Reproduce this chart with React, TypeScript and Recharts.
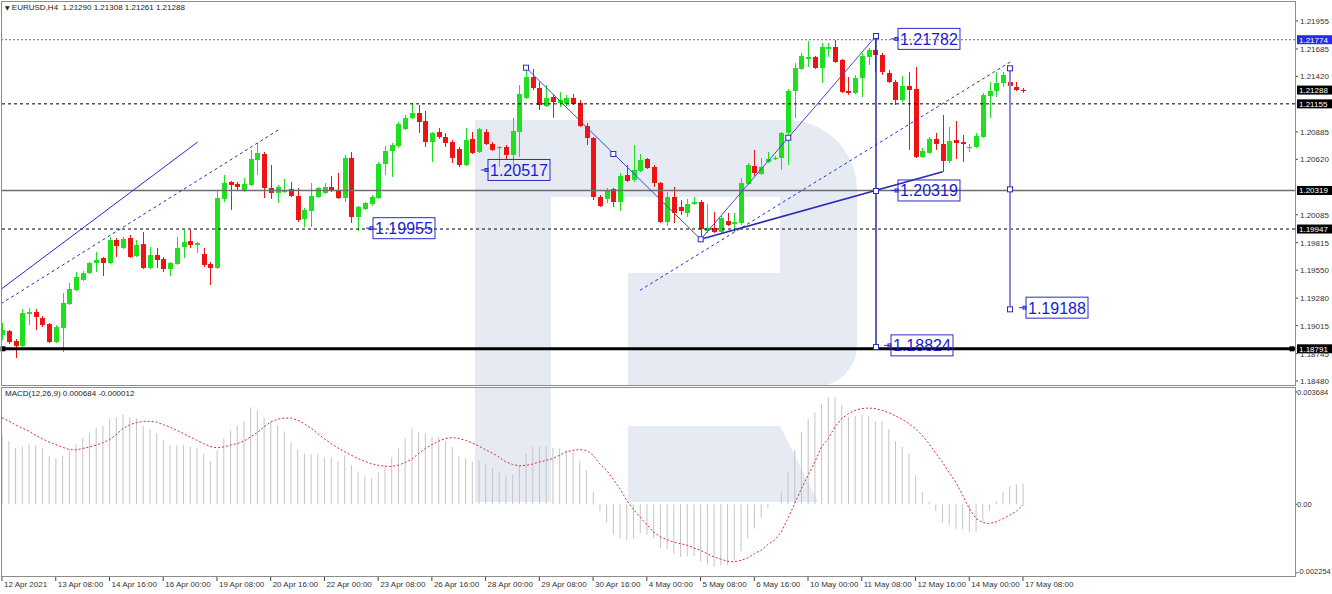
import React from "react";
import {
  ComposedChart,
  Bar,
  Line,
  XAxis,
  YAxis,
  ReferenceLine,
  ReferenceArea,
  ReferenceDot,
} from "recharts";

// EURUSD H4, one value per candle: 12 Apr 2021 00:00 .. 17 May 2021 08:00
const opens = [
  1.18924, 1.18963, 1.18866, 1.18818, 1.19127, 1.19146, 1.19088, 1.1903, 1.18856, 1.18991,
  1.19223, 1.19358, 1.19455, 1.19522, 1.19619, 1.19667, 1.19619, 1.19841, 1.19764, 1.1986,
  1.19687, 1.19802, 1.19571, 1.19696, 1.19658, 1.19561, 1.19609, 1.19773, 1.19831, 1.19793,
  1.19706, 1.19609, 1.19571, 1.20237, 1.20401, 1.20382, 1.20324, 1.20372, 1.20613, 1.20671,
  1.20343, 1.20295, 1.20304, 1.20333, 1.20266, 1.20044, 1.20121, 1.20256, 1.20295, 1.20353,
  1.20324, 1.20246, 1.20633, 1.20063, 1.2014, 1.20189, 1.20246, 1.20575, 1.207, 1.20748,
  1.20912, 1.21019, 1.21067, 1.2099, 1.20787, 1.20883, 1.20835, 1.20787, 1.20719, 1.20565,
  1.20816, 1.2069, 1.20883, 1.20768, 1.20729, 1.20739, 1.20662, 1.20883, 1.21212, 1.21414,
  1.21308, 1.21134, 1.21221, 1.21163, 1.21154, 1.21212, 1.21163, 1.20941, 1.20826, 1.20256,
  1.20237, 1.20333, 1.20208, 1.20468, 1.2042, 1.20507, 1.20623, 1.20546, 1.20391, 1.20015,
  1.20256, 1.2016, 1.20102, 1.20189, 1.20208, 1.19928, 1.19957, 1.19918, 1.20024, 1.19995,
  1.20005, 1.20382, 1.20555, 1.20478, 1.20594, 1.20623, 1.20633, 1.20874, 1.21279, 1.21492,
  1.21588, 1.21608, 1.21501, 1.21685, 1.21704, 1.21579, 1.21279, 1.2126, 1.21405, 1.21608,
  1.21675, 1.21627, 1.21453, 1.21366, 1.21192, 1.21328, 1.21299, 1.20642, 1.20681, 1.20816,
  1.20768, 1.20604, 1.20806, 1.20787, 1.20729, 1.20739, 1.20835, 1.21231, 1.21279, 1.21356,
  1.21366, 1.21318, 1.2129,
];
const highs = [
  1.1904, 1.18972, 1.18885, 1.19175, 1.19185, 1.19175, 1.19107, 1.1904, 1.1902, 1.19329,
  1.19426, 1.19532, 1.19542, 1.19629, 1.19725, 1.19677, 1.1987, 1.1986, 1.1987, 1.19889,
  1.19841, 1.19918, 1.19773, 1.19764, 1.19677, 1.19629, 1.1987, 1.19938, 1.19938, 1.19822,
  1.19764, 1.19629, 1.20324, 1.20468, 1.20411, 1.20401, 1.20439, 1.2071, 1.20777, 1.2069,
  1.20565, 1.20372, 1.2043, 1.20401, 1.20343, 1.2015, 1.20391, 1.20353, 1.20391, 1.20459,
  1.20488, 1.20662, 1.2069, 1.20169, 1.20208, 1.20275, 1.20594, 1.20748, 1.20777, 1.2098,
  1.21048, 1.21163, 1.21144, 1.21086, 1.20883, 1.20922, 1.20874, 1.20806, 1.20739, 1.20922,
  1.20883, 1.20922, 1.20912, 1.20787, 1.20748, 1.20758, 1.21019, 1.21337, 1.21521, 1.21492,
  1.21366, 1.21337, 1.21241, 1.2127, 1.21241, 1.2125, 1.21192, 1.2097, 1.20835, 1.20275,
  1.20343, 1.20343, 1.20488, 1.20565, 1.20758, 1.20671, 1.20633, 1.20565, 1.20401, 1.20304,
  1.20353, 1.20227, 1.20237, 1.20256, 1.20227, 1.20189, 1.20111, 1.20073, 1.20102, 1.20102,
  1.20439, 1.20584, 1.2071, 1.20633, 1.2069, 1.20652, 1.20883, 1.21299, 1.2155, 1.21646,
  1.21762, 1.21617, 1.21743, 1.21743, 1.21772, 1.21588, 1.21414, 1.21434, 1.21646, 1.21694,
  1.21782, 1.21646, 1.21482, 1.21386, 1.21424, 1.21463, 1.21511, 1.20729, 1.20835, 1.20874,
  1.21048, 1.20932, 1.2099, 1.20855, 1.20768, 1.20874, 1.2126, 1.21366, 1.21463, 1.21463,
  1.21501, 1.21366, 1.21308,
];
const lows = [
  1.18876, 1.18837, 1.18702, 1.18808, 1.1902, 1.18972, 1.19001, 1.18847, 1.18847, 1.1876,
  1.19214, 1.19349, 1.19445, 1.19513, 1.19532, 1.19493, 1.19609, 1.19677, 1.19754, 1.19667,
  1.19677, 1.19561, 1.19561, 1.19571, 1.19532, 1.19493, 1.196, 1.19667, 1.19764, 1.19715,
  1.1958, 1.19407, 1.19561, 1.20208, 1.20131, 1.20324, 1.20304, 1.20362, 1.20468, 1.20246,
  1.20237, 1.20198, 1.20295, 1.20256, 1.20015, 1.19967, 1.19967, 1.20246, 1.20285, 1.20304,
  1.20237, 1.20208, 1.20005, 1.19928, 1.20131, 1.20169, 1.20237, 1.20468, 1.20449, 1.20729,
  1.20903, 1.21009, 1.20874, 1.20739, 1.20594, 1.20816, 1.20739, 1.20584, 1.20546, 1.20555,
  1.20671, 1.20681, 1.20758, 1.207, 1.20546, 1.20613, 1.20565, 1.20642, 1.21202, 1.21289,
  1.21096, 1.21125, 1.21019, 1.21125, 1.21134, 1.21144, 1.20932, 1.20758, 1.20227, 1.2016,
  1.20198, 1.2016, 1.20121, 1.20401, 1.20401, 1.20497, 1.20526, 1.20353, 1.20005, 1.19976,
  1.20005, 1.20082, 1.20063, 1.20179, 1.19851, 1.19909, 1.19909, 1.19909, 1.19976, 1.19918,
  1.19986, 1.20372, 1.20459, 1.20468, 1.20584, 1.20613, 1.20517, 1.20565, 1.21019, 1.21482,
  1.21511, 1.21492, 1.21356, 1.21608, 1.2155, 1.2126, 1.21241, 1.2125, 1.21221, 1.2153,
  1.21463, 1.21434, 1.21356, 1.21144, 1.21173, 1.2071, 1.20633, 1.20633, 1.20671, 1.2071,
  1.20497, 1.20584, 1.20623, 1.20594, 1.2069, 1.20729, 1.20826, 1.21019, 1.21221, 1.21318,
  1.21308, 1.21279, 1.21261,
];
const closes = [
  1.18972, 1.18856, 1.18818, 1.19136, 1.19146, 1.19098, 1.1902, 1.18856, 1.19001, 1.19233,
  1.19368, 1.19484, 1.19522, 1.19619, 1.19648, 1.19619, 1.19841, 1.19783, 1.19851, 1.19677,
  1.19793, 1.19571, 1.19696, 1.19648, 1.19561, 1.19619, 1.19764, 1.19822, 1.19793, 1.19812,
  1.196, 1.19571, 1.20246, 1.20391, 1.20372, 1.20353, 1.20382, 1.20623, 1.20681, 1.20343,
  1.20295, 1.20353, 1.20324, 1.20266, 1.20034, 1.20131, 1.20266, 1.20343, 1.20353, 1.20314,
  1.20246, 1.20633, 1.20063, 1.2016, 1.20198, 1.20256, 1.20575, 1.207, 1.20758, 1.20961,
  1.21019, 1.21067, 1.2098, 1.20787, 1.20874, 1.20835, 1.20777, 1.20633, 1.20565, 1.20806,
  1.20681, 1.20912, 1.20768, 1.2071, 1.20739, 1.20662, 1.20893, 1.2125, 1.21414, 1.21308,
  1.21144, 1.21212, 1.21173, 1.21192, 1.21212, 1.21154, 1.20941, 1.20826, 1.20256, 1.20169,
  1.20314, 1.20208, 1.20459, 1.20411, 1.20517, 1.20613, 1.20536, 1.20391, 1.20015, 1.20256,
  1.20102, 1.20121, 1.20189, 1.20208, 1.19947, 1.19957, 1.19918, 1.20053, 1.19986, 1.20015,
  1.20391, 1.20565, 1.20488, 1.20546, 1.20623, 1.20633, 1.20874, 1.21279, 1.21501, 1.21617,
  1.21608, 1.21501, 1.21704, 1.21704, 1.21559, 1.2127, 1.2126, 1.21405, 1.21617, 1.21675,
  1.21627, 1.21463, 1.21366, 1.21192, 1.21328, 1.21289, 1.20642, 1.207, 1.20816, 1.20768,
  1.20604, 1.20797, 1.20777, 1.20768, 1.20739, 1.20845, 1.21241, 1.21279, 1.21356, 1.21434,
  1.21328, 1.21289, 1.21288,
];

// MACD(12,26,9): main line (drawn as histogram) and signal line
const macdMain = [
  0.00226, 0.00207, 0.00184, 0.0019, 0.00197, 0.00194, 0.00184, 0.00159, 0.00151, 0.00159,
  0.00177, 0.00197, 0.00216, 0.00235, 0.00251, 0.00258, 0.00279, 0.00285, 0.00295, 0.00285,
  0.00282, 0.00258, 0.00246, 0.00233, 0.0021, 0.00194, 0.00194, 0.00194, 0.0019, 0.00184,
  0.00164, 0.00141, 0.00177, 0.00216, 0.00243, 0.00259, 0.00272, 0.00318, 0.00308, 0.00285,
  0.00272, 0.00259, 0.00239, 0.00203, 0.0018, 0.00167, 0.00164, 0.00164, 0.00154, 0.00154,
  0.00141, 0.00161, 0.00128, 0.00108, 0.00092, 0.00085, 0.00105, 0.00128, 0.00154, 0.00184,
  0.00216, 0.00249, 0.00236, 0.00233, 0.0022, 0.0022, 0.00207, 0.00188, 0.00157, 0.00152,
  0.00139, 0.00141, 0.00133, 0.00119, 0.00108, 0.00092, 0.00097, 0.00128, 0.00168, 0.00188,
  0.00188, 0.0019, 0.00185, 0.00183, 0.00177, 0.00172, 0.00144, 0.00112, 0.0004, -0.00022,
  -0.0006, -0.00099, -0.00111, -0.00118, -0.00111, -0.00095, -0.00099, -0.00111, -0.00143, -0.00148,
  -0.00162, -0.00173, -0.0017, -0.0017, -0.00187, -0.00198, -0.00206, -0.002, -0.002, -0.00187,
  -0.00154, -0.00111, -0.00079, -0.00044, -0.00013, 0.00002, 0.00043, 0.00108, 0.00179, 0.00237,
  0.00279, 0.00301, 0.0033, 0.00352, 0.00352, 0.00325, 0.00286, 0.0029, 0.00294, 0.0029,
  0.00272, 0.00272, 0.00246, 0.00207, 0.00188, 0.00166, 0.00095, 0.0004, 0.00009, -0.00022,
  -0.00058, -0.00067, -0.0008, -0.00082, -0.00091, -0.00091, -0.00058, -0.00022, 0.00011, 0.0004,
  0.00058, 0.00065, 0.000684,
];
const macdSignal = [
  0.00284, 0.00273, 0.00261, 0.0025, 0.0024, 0.00226, 0.00215, 0.00204, 0.00196, 0.00187,
  0.0018, 0.00178, 0.00183, 0.00188, 0.00194, 0.00202, 0.00212, 0.00229, 0.00248, 0.00261,
  0.00268, 0.00272, 0.00272, 0.0027, 0.00261, 0.00254, 0.00243, 0.00232, 0.00221, 0.0021,
  0.00199, 0.0019, 0.00185, 0.00188, 0.00194, 0.00199, 0.00207, 0.00221, 0.00235, 0.00254,
  0.0027, 0.00279, 0.00283, 0.00283, 0.00276, 0.00265, 0.0025, 0.00232, 0.00215, 0.00199,
  0.00185, 0.00172, 0.00161, 0.0015, 0.00141, 0.00133, 0.00128, 0.00125, 0.00124, 0.00128,
  0.00137, 0.00148, 0.00166, 0.00183, 0.00196, 0.00207, 0.00216, 0.00219, 0.00216, 0.0021,
  0.00201, 0.00191, 0.00179, 0.00168, 0.00155, 0.00139, 0.00131, 0.00126, 0.00128, 0.00132,
  0.00139, 0.00144, 0.0015, 0.00161, 0.00172, 0.00177, 0.0018, 0.00177, 0.00161, 0.00133,
  0.00112, 0.00082, 0.00051, 0.00013, -0.00016, -0.00042, -0.00067, -0.00091, -0.00107, -0.00116,
  -0.00124, -0.00129, -0.00134, -0.00143, -0.00151, -0.00162, -0.00173, -0.0018, -0.00187, -0.00189,
  -0.00184, -0.00176, -0.00162, -0.00151, -0.00132, -0.00118, -0.00091, -0.00047, 0.00002, 0.00051,
  0.00095, 0.00139, 0.00188, 0.00215, 0.00254, 0.00281, 0.00297, 0.00308, 0.00314, 0.00316,
  0.00314, 0.00308, 0.00301, 0.0029, 0.00279, 0.00265, 0.00248, 0.00226, 0.00199, 0.00168,
  0.00139, 0.00104, 0.00073, 0.0003, -0.00014, -0.00047, -0.0006, -0.00063, -0.00058, -0.00047,
  -0.00036, -0.00023, -0.000012,
];

const timeTicks = [0, 8, 16, 24, 32, 40, 48, 56, 64, 72, 80, 88, 96, 104, 112, 120, 128, 136, 144, 152];
const timeLabels = [
  "12 Apr 2021", "13 Apr 08:00", "14 Apr 16:00", "16 Apr 00:00", "19 Apr 08:00",
  "20 Apr 16:00", "22 Apr 00:00", "23 Apr 08:00", "26 Apr 16:00", "28 Apr 00:00",
  "29 Apr 08:00", "30 Apr 16:00", "4 May 00:00", "5 May 08:00", "6 May 16:00",
  "10 May 00:00", "11 May 08:00", "12 May 16:00", "14 May 00:00", "17 May 08:00",
];

const priceTicks = [
  1.21955, 1.21685, 1.2142, 1.20885, 1.2062, 1.20085, 1.19815, 1.1955, 1.1928, 1.19015, 1.18745, 1.1848,
];
const macdTicks = [0.003684, 0, -0.002254];

// horizontal levels: ask line, bid, resistance, pivot, support, base
const askLevel = 1.21774;
const bidLevel = 1.21288;
const resistance = 1.21155;
const pivot = 1.20319;
const support = 1.19947;
const baseLevel = 1.18791;

// drawn objects, in (candle index, price)
const channelUpper = [{ x: -0.15, y: 1.19365 }, { x: 29.13, y: 1.20787 }];
const channelLower = [{ x: -0.15, y: 1.19226 }, { x: 41.13, y: 1.20903 }];
const supportLine = [{ x: 94.98, y: 1.19355 }, { x: 150.17, y: 1.21562 }];
const waveDown = [{ x: 78.01, y: 1.21504 }, { x: 104.02, y: 1.19848 }];
const waveUp = [{ x: 104.02, y: 1.19848 }, { x: 130.12, y: 1.2181 }];
const fanLine = [{ x: 104.02, y: 1.19848 }, { x: 140.05, y: 1.205 }];
const projectionA = [{ x: 130.12, y: 1.2181 }, { x: 130.12, y: 1.18808 }];
const projectionB = [{ x: 150.07, y: 1.21498 }, { x: 150.07, y: 1.19172 }];
const anchors = [
  { x: 78.01, y: 1.21504 }, { x: 91.01, y: 1.20671 }, { x: 104.02, y: 1.19848 },
  { x: 117.06, y: 1.20828 }, { x: 130.12, y: 1.2181 }, { x: 130.12, y: 1.20314 },
  { x: 130.12, y: 1.18808 }, { x: 150.07, y: 1.21498 }, { x: 150.07, y: 1.2033 },
  { x: 150.07, y: 1.19172 },
];
const priceTags = [
  { x: 132.35, y: 1.21782 }, { x: 71.31, y: 1.20517 }, { x: 54.19, y: 1.19955 },
  { x: 132.35, y: 1.20319 }, { x: 151.41, y: 1.19188 }, { x: 131.31, y: 1.18824 },
];

const candles = opens.map((o, i) => ({
  i,
  open: o,
  high: highs[i],
  low: lows[i],
  close: closes[i],
  range: [lows[i], highs[i]],
  macd: macdMain[i],
  signal: macdSignal[i],
}));

const W = 1332;
const PLOT_RIGHT = 1295;
const X_DOMAIN = [-0.15, 192.5];
const PRICE_DOMAIN = [1.18432, 1.22138];
const MACD_DOMAIN = [-0.002352, 0.003815];
const GREEN = "#1ee01e";
const RED = "#ee1414";
const BLUE = "#2a2ad0";
const WM = "#e6ebf3";
const FONT = "'Liberation Sans', Arial, sans-serif";

const Candle = (props: any) => {
  const { x, y, width, height, payload } = props;
  if (x == null || y == null) return null;
  const { open, close, high, low } = payload;
  const up = close >= open;
  const color = up ? GREEN : RED;
  const h = Math.abs(height);
  const top0 = Math.min(y, y + height);
  const span = high - low || 1;
  const py = (v: number) => top0 + ((high - v) / span) * h;
  const cx = Math.round(x + width / 2) + 0.5;
  const bTop = py(Math.max(open, close));
  const bBot = py(Math.min(open, close));
  return (
    <g>
      <line x1={cx} x2={cx} y1={top0} y2={top0 + h} stroke={color} strokeWidth={1} />
      <rect x={cx - 2.5} y={bTop} width={5} height={Math.max(bBot - bTop, 1.2)} fill={color} />
    </g>
  );
};

const PriceTick = (props: any) => {
  const { y, payload } = props;
  return (
    <g>
      <line x1={PLOT_RIGHT} x2={PLOT_RIGHT + 3} y1={y} y2={y} stroke="#444" />
      <text x={PLOT_RIGHT + 5} y={y + 3} fontSize={8} fill="#333">
        {payload.value.toFixed(5)}
      </text>
    </g>
  );
};

const MacdTick = (props: any) => {
  const { y, payload } = props;
  const v = payload.value;
  const txt = v === 0 ? "0.00" : v.toFixed(6);
  return (
    <g>
      <line x1={PLOT_RIGHT} x2={PLOT_RIGHT + 2} y1={y} y2={y} stroke="#444" />
      <text x={PLOT_RIGHT + 2} y={v < 0 ? y + 1 : y + 3} fontSize={7.5} fill="#333">
        {txt}
      </text>
    </g>
  );
};

const TimeTick = (props: any) => {
  const { x, payload } = props;
  const k = timeTicks.indexOf(payload.value);
  return (
    <g>
      <line x1={x} x2={x} y1={189} y2={194} stroke="#444" />
      <text x={x + 2} y={200} fontSize={8} fill="#333">
        {timeLabels[k]}
      </text>
    </g>
  );
};

const AxisTag = (props: any) => {
  const { viewBox, text, bg } = props;
  if (!viewBox) return null;
  const y = viewBox.y;
  return (
    <g>
      <rect x={PLOT_RIGHT + 2} y={y - 4.5} width={35} height={9} fill={bg} />
      <text x={PLOT_RIGHT + 4} y={y + 3} fontSize={8} fill="#fff">
        {text}
      </text>
    </g>
  );
};

const Anchor = (props: any) => {
  const { cx, cy } = props;
  return <rect x={cx - 2.5} y={cy - 2.5} width={5} height={5} fill="#fff" stroke={BLUE} strokeWidth={1} />;
};

const EndSquare = (props: any) => {
  const { cx, cy } = props;
  return <rect x={cx - 2.5} y={cy - 2.5} width={5} height={5} fill="#000" />;
};

const makeTag = (text: string) => (props: any) => {
  const { cx, cy } = props;
  return (
    <g>
      <line x1={cx} x2={cx + 7} y1={cy} y2={cy} stroke={BLUE} strokeWidth={1} />
      <rect x={cx + 4} y={cy - 1.5} width={3} height={3} fill="none" stroke={BLUE} />
      <rect x={cx + 7} y={cy - 10.5} width={62} height={21} fill="none" stroke={BLUE} strokeWidth={1} />
      <text x={cx + 9} y={cy + 6} fontSize={16} fill="#1a1ad6">
        {text}
      </text>
    </g>
  );
};

const bowlShape = (props: any) => {
  const { x, y, width: w, height: h } = props;
  const r1 = 70;
  const r2 = 40;
  const d = `M${x},${y} H${x + w - r1} A${r1},${r1} 0 0 1 ${x + w},${y + r1} V${y + h - r2} A${r2},${r2} 0 0 1 ${x + w - r2},${y + h} H${x} Z`;
  return <path d={d} fill={WM} />;
};

const legShape = (props: any) => {
  const { x, y, width: w, height: h } = props;
  const d = `M${x},${y} H${x + w - 38} L${x + w},${y + h} H${x} Z`;
  return <path d={d} fill={WM} />;
};

export default function App() {
  return (
    <div
      style={{
        position: "absolute",
        left: 0,
        top: 0,
        width: W,
        height: 594,
        background: "#fff",
        fontFamily: FONT,
        overflow: "hidden",
      }}
    >
      <div style={{ position: "absolute", left: 0, top: 0 }}>
        <ComposedChart width={W} height={387} data={candles} margin={{ top: 2, right: 0, bottom: 1, left: 1 }}>
          <XAxis dataKey="i" type="number" domain={X_DOMAIN} allowDataOverflow hide />
          <YAxis
            orientation="right"
            width={37}
            domain={PRICE_DOMAIN}
            allowDataOverflow
            ticks={priceTicks}
            tick={<PriceTick />}
            tickLine={false}
            axisLine={false}
            interval={0}
          />
          {/* watermark */}
          <ReferenceArea x1={70.42} x2={127.29} y1={PRICE_DOMAIN[0]} y2={1.20999} shape={bowlShape} ifOverflow="visible" />
          <ReferenceArea x1={81.73} x2={115.83} y1={1.19522} y2={1.20256} fill="#fff" fillOpacity={1} ifOverflow="visible" />
          <ReferenceArea x1={81.73} x2={93.2} y1={PRICE_DOMAIN[0]} y2={1.19522} fill="#fff" fillOpacity={1} ifOverflow="visible" />

          <ReferenceLine y={askLevel} stroke="#5a5ae6" strokeDasharray="2 2" label={<AxisTag text="1.21774" bg="#2828f0" />} />
          <ReferenceLine y={bidLevel} stroke="none" label={<AxisTag text="1.21288" bg="#000" />} />
          <ReferenceLine y={resistance} stroke="#000" strokeDasharray="3 3" label={<AxisTag text="1.21155" bg="#000" />} />
          <ReferenceLine y={pivot} stroke="#6e6e6e" strokeWidth={1.5} label={<AxisTag text="1.20319" bg="#000" />} />
          <ReferenceLine y={support} stroke="#000" strokeDasharray="3 3" label={<AxisTag text="1.19947" bg="#000" />} />

          <Bar dataKey="range" barSize={5} shape={<Candle />} isAnimationActive={false} />

          <ReferenceLine y={baseLevel} stroke="#000" strokeWidth={3} label={<AxisTag text="1.18791" bg="#000" />} />
          <ReferenceDot x={0.15} y={baseLevel} shape={EndSquare} />
          <ReferenceDot x={192.05} y={baseLevel} shape={EndSquare} />

          <ReferenceLine segment={channelUpper} stroke={BLUE} strokeWidth={1} ifOverflow="visible" />
          <ReferenceLine segment={channelLower} stroke={BLUE} strokeDasharray="3 3" ifOverflow="visible" />
          <ReferenceLine segment={supportLine} stroke={BLUE} strokeDasharray="3 3" ifOverflow="visible" />
          <ReferenceLine segment={waveDown} stroke="#4646d2" strokeWidth={1} ifOverflow="visible" />
          <ReferenceLine segment={waveUp} stroke="#4646d2" strokeWidth={1} ifOverflow="visible" />
          <ReferenceLine segment={fanLine} stroke="#2a2ab4" strokeWidth={1.6} ifOverflow="visible" />
          <ReferenceLine segment={projectionA} stroke="#2a2aa8" strokeWidth={1.5} ifOverflow="visible" />
          <ReferenceLine segment={projectionB} stroke="#8a8ade" strokeWidth={2} ifOverflow="visible" />
          {anchors.map((a, k) => (
            <ReferenceDot key={`a${k}`} x={a.x} y={a.y} shape={Anchor} ifOverflow="visible" />
          ))}
          {priceTags.map((t, k) => (
            <ReferenceDot key={`t${k}`} x={t.x} y={t.y} shape={makeTag(t.y.toFixed(5))} ifOverflow="visible" />
          ))}
        </ComposedChart>
      </div>

      <div style={{ position: "absolute", left: 0, top: 387 }}>
        <ComposedChart width={W} height={207} data={candles} margin={{ top: 1, right: 0, bottom: 0, left: 1 }}>
          <XAxis
            dataKey="i"
            type="number"
            domain={X_DOMAIN}
            allowDataOverflow
            ticks={timeTicks}
            interval={0}
            height={18}
            tick={<TimeTick />}
            tickLine={false}
            axisLine={false}
          />
          <YAxis
            orientation="right"
            width={37}
            domain={MACD_DOMAIN}
            allowDataOverflow
            ticks={macdTicks}
            interval={0}
            tick={<MacdTick />}
            tickLine={false}
            axisLine={false}
          />
          <ReferenceArea x1={70.42} x2={81.73} y1={0.000076} y2={MACD_DOMAIN[1]} fill={WM} fillOpacity={1} ifOverflow="visible" />
          <ReferenceArea x1={93.2} x2={121.48} y1={0.000076} y2={0.002569} shape={legShape} ifOverflow="visible" />
          <Bar dataKey="macd" barSize={1} fill="#c4c4c4" isAnimationActive={false} />
          <Line
            dataKey="signal"
            type="linear"
            stroke="#d23030"
            strokeWidth={1}
            strokeDasharray="2 2"
            dot={false}
            isAnimationActive={false}
          />
        </ComposedChart>
      </div>

      {/* pane frames */}
      <div style={{ position: "absolute", left: 1, top: 1, width: 1293, height: 383, border: "1px solid #8c8c8c", pointerEvents: "none" }} />
      <div style={{ position: "absolute", left: 1, top: 387, width: 1293, height: 188, border: "1px solid #8c8c8c", pointerEvents: "none" }} />

      <div style={{ position: "absolute", left: 5, top: 3, fontSize: 8, color: "#222", whiteSpace: "pre" }}>
        <span style={{ fontFamily: "'DejaVu Sans'", fontSize: 6 }}>▼</span> EURUSD,H4  1.21290 1.21308 1.21261 1.21288
      </div>
      <div style={{ position: "absolute", left: 5, top: 389, fontSize: 8, color: "#222", whiteSpace: "pre" }}>
        MACD(12,26,9) 0.000684 -0.000012
      </div>
    </div>
  );
}
